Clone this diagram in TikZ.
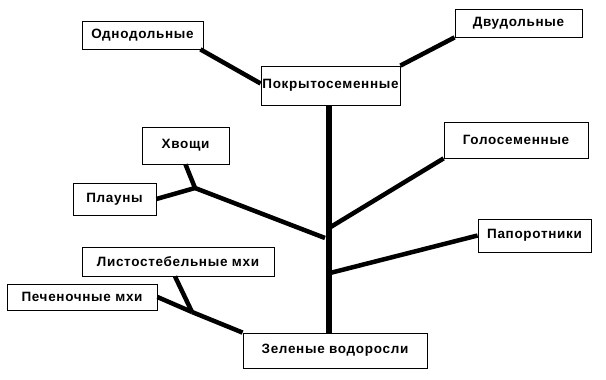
\documentclass[tikz,border=0pt]{standalone}
\usepackage{fontspec}
\setmainfont{Liberation Sans}[LetterSpace=5]
\usetikzlibrary{calc}
\tikzset{
  box/.style={draw=black, line width=0.8pt, fill=white, inner sep=0pt, font=\bfseries\fontsize{13.5}{16}\selectfont},
  branch/.style={line width=4.5pt, line cap=butt},
  trunk/.style={line width=6pt, line cap=butt}
}
\begin{document}
\begin{tikzpicture}[x=1pt, y=-1pt]
\useasboundingbox (0,0) rectangle (606,380);
% nodes
\node[box, minimum width=121pt, minimum height=28pt] (odn) at (142.5,35) {Однодольные};
\node[box, minimum width=127pt, minimum height=28pt] (dvu) at (518.5,23) {Двудольные};
\node[box, minimum width=139pt, minimum height=39pt] (pokr) at (330.5,85.5) {Покрытосеменные};
\node[box, minimum width=87pt, minimum height=37pt] (hvo) at (185.5,145.5) {Хвощи};
\node[box, minimum width=144pt, minimum height=36pt] (gol) at (516,140) {Голосеменные};
\node[box, minimum width=83pt, minimum height=32pt] (plau) at (114.5,199) {Плауны};
\node[box, minimum width=113pt, minimum height=33pt] (pap) at (534.5,235.5) {Папоротники};
\node[box, minimum width=192pt, minimum height=29pt] (list) at (178,261.5) {Листостебельные мхи};
\node[box, minimum width=150pt, minimum height=26pt] (pech) at (82,297) {Печеночные мхи};
\node[box, minimum width=184pt, minimum height=35pt] (zel) at (335,350.5) {Зеленые водоросли};
% junctions
\coordinate (j1) at (195,188);
\coordinate (e1) at (325,238);
\coordinate (j2) at (192,312);
\coordinate (tg) at (329,228);
\coordinate (tp) at (330,273);
% connectors
\draw[trunk] (pokr.south -| 329,0) -- (zel.north -| 329,0);
\draw[branch] ($(odn.south east)+(-3,0)$) -- ($(pokr.west)+(0,-2)$);
\draw[branch] (dvu.south west) -- (pokr.north east);
\draw[branch] (hvo.south) -- (j1);
\draw[branch] (plau.east) -- (j1);
\draw[branch] (j1) -- (e1);
\draw[branch] (gol.south west) -- (tg);
\draw[branch] (pap.west) -- (tp);
\draw[branch] ($(list.south)+(-3,0)$) -- (j2);
\draw[branch] (pech.east) -- (j2);
\draw[branch] (j2) -- (zel.north west);
\end{tikzpicture}
\end{document}
